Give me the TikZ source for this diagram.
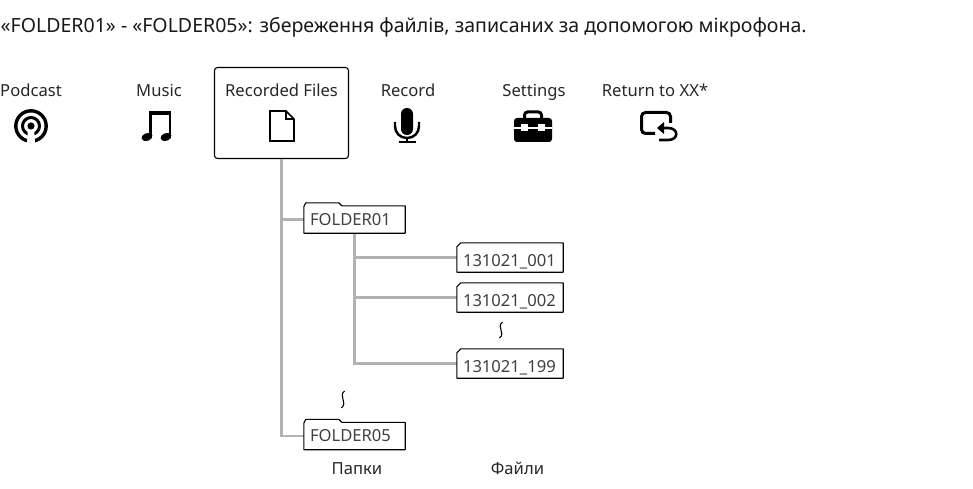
\documentclass[tikz,border=0pt]{standalone}
\usepackage{fontspec}
\setmainfont{Noto Sans}
\tikzset{
    headtext/.style={font=\fontsize{19.55}{22}\selectfont, text=black!90, inner sep=0pt},
    menutext/.style={font=\fontsize{16.6}{18}\selectfont, text=black!85, inner sep=0pt, anchor=base},
    menubox/.style={draw=black, line width=1.1pt, rounded corners=3pt, minimum width=134pt, minimum height=91pt, inner sep=0pt},
    folderbox/.style={font=\fontsize{16.6}{18}\selectfont, text=black!75, minimum width=101pt, minimum height=27pt, inner sep=0pt, inner xsep=6pt, text width=89pt, text height=11pt, text depth=0pt},
    filebox/.style={font=\fontsize{16.6}{18}\selectfont, text=black!75, minimum width=106pt, minimum height=29pt, inner sep=0pt, inner xsep=6pt, text width=94pt, text height=17pt, text depth=0pt},
    outline/.style={draw=black, line width=1.1pt, line join=round},
    branch/.style={draw=black!30, line width=2.3pt},
    squiggle/.style={draw=black, line width=1.1pt}
}
% Folder and file outlines follow the named nodes
\newcommand{\folderline}[1]{
    \draw[outline] (#1.south west) -- ([yshift=-1pt]#1.north west) -- ([xshift=2pt,yshift=3pt]#1.north west) -- ([xshift=35pt,yshift=3pt]#1.north west) -- ([xshift=38pt]#1.north west) -- (#1.north east) -- (#1.south east) -- cycle;
}
\newcommand{\fileline}[1]{
    \draw[outline] (#1.south west) -- ([yshift=-4pt]#1.north west) -- ([xshift=4pt]#1.north west) -- (#1.north east) -- (#1.south east) -- cycle;
}
\begin{document}
\begin{tikzpicture}[x=1pt,y=-1pt]
    \useasboundingbox (0,0) rectangle (973,489);

    % Heading
    \node[headtext, anchor=base west] (heading) at (0.5,33) {«FOLDER01» - «FOLDER05»: збереження файлів, записаних за допомогою мікрофона.};

    % Menu labels
    \node[menutext] (podcast) at (31,97) {Podcast};
    \node[menutext] (music) at (159,97) {Music};
    \node[menubox] (recorded) at (281.5,113) {};
    \node[menutext] (recordedlabel) at (281.5,97) {Recorded Files};
    \node[menutext] (record) at (408,97) {Record};
    \node[menutext] (settings) at (534,97) {Settings};
    \node[menutext] (return) at (655,97) {Return to XX*};

    % Folders and files
    \node[folderbox] (folderA) at (354.5,219.5) {FOLDER01};
    \node[folderbox] (folderB) at (354.5,436) {FOLDER05};
    \node[filebox] (fileA) at (510,257.5) {131021\_001};
    \node[filebox] (fileB) at (510,297.5) {131021\_002};
    \node[filebox] (fileC) at (510,363.5) {131021\_199};
    \node[menutext] (folderscap) at (357,474) {Папки};
    \node[menutext] (filescap) at (517.5,474) {Файли};

    % Tree connectors
    \draw[branch] (recorded.south) |- (folderA.west);
    \draw[branch] (recorded.south) |- (folderB.west);
    \draw[branch] (folderA.south) |- (fileA.west);
    \draw[branch] (folderA.south) |- (fileB.west);
    \draw[branch] (folderA.south) |- (fileC.west);

    % Outlines on top of the connectors
    \folderline{folderA}
    \folderline{folderB}
    \fileline{fileA}
    \fileline{fileB}
    \fileline{fileC}

    % Breaks in the lists
    \draw[squiggle] (502.5,322) .. controls (496,327) and (506,333) .. (499.5,338);
    \draw[squiggle] (344.5,391) .. controls (338,396) and (348,402) .. (341.5,408);

    % Podcast icon
    \draw[line width=3.4pt] (31,126) circle (15.2);
    \draw[line width=3pt] (31,126) circle (8.5);
    \fill[white] (28,126) -- (34,126) -- (35,144) -- (27,144) -- cycle;
    \fill (31,126) circle (3.6);

    % Music icon
    \draw[line width=2.4pt] (150.5,137) -- (150.5,112);
    \draw[line width=2.4pt] (169.7,137) -- (169.7,112);
    \fill (149.3,111) rectangle (170.9,115.5);
    \fill[rotate around={18:(147,137)}] (147,137) ellipse (5.6 and 3.9);
    \fill[rotate around={18:(166,137)}] (166,137) ellipse (5.6 and 3.9);

    % Document icon
    \draw[line width=1.6pt, line join=miter] (270,111) -- (286,111) -- (294,119) -- (294,141) -- (270,141) -- cycle;
    \draw[line width=1.6pt] (286,111) -- (286,119) -- (294,119);

    % Microphone icon
    \fill[rounded corners=5.9pt] (401,108) rectangle (413,135);
    \draw[line width=2.4pt] (395,122) -- (395,126) .. controls (395,133) and (400,138) .. (407,138) .. controls (414,138) and (419,133) .. (419,126) -- (419,122);
    \draw[line width=2pt] (407,138) -- (407,142);
    \draw[line width=2pt] (399,142) -- (416,142);

    % Briefcase icon
    \draw[line width=3pt, rounded corners=3pt] (524.5,119) -- (524.5,112) -- (541.5,112) -- (541.5,119);
    \fill[rounded corners=3pt] (514,118) rectangle (552,142);
    \fill[white] (514,127) rectangle (552,129);
    \fill[white] (520.5,124.5) rectangle (527.5,131.5);
    \fill[white] (538,124.5) rectangle (545,131.5);

    % Return icon
    \draw[line width=3pt, rounded corners=4pt] (655,133.5) -- (641.5,133.5) -- (641.5,112.5) -- (670.5,112.5) -- (670.5,123);
    \fill (657,128) -- (664,122) -- (664,134) -- cycle;
    \draw[line width=2.6pt] (662,128) -- (668,128) .. controls (679,128) and (679,140) .. (668,140) -- (659,140);
\end{tikzpicture}
\end{document}
